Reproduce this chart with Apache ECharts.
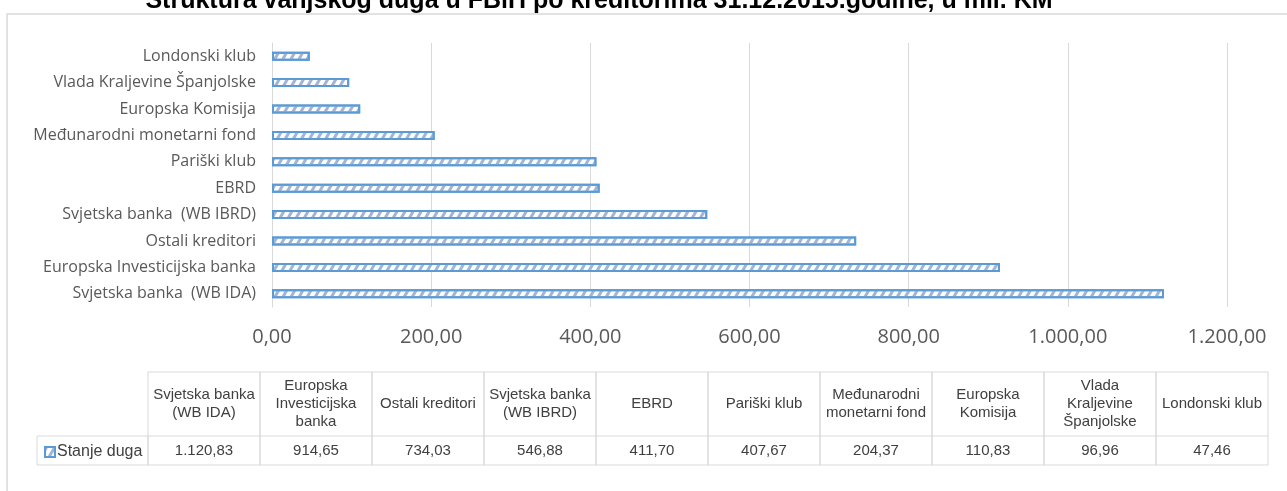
<!DOCTYPE html>
<html>
<head>
<meta charset="utf-8">
<script src="https://cdn.jsdelivr.net/npm/echarts@6/dist/echarts.min.js"></script>
<style>
  html, body { margin: 0; padding: 0; background: #fff; }
  #chart { width: 1287px; height: 491px; }
</style>
</head>
<body>
<div id="chart"></div>
<script>
// creditors, in table order (largest first)
const creditors = [
  "Svjetska banka  (WB IDA)",
  "Europska Investicijska banka",
  "Ostali kreditori",
  "Svjetska banka  (WB IBRD)",
  "EBRD",
  "Pariški klub",
  "Međunarodni monetarni fond",
  "Europska Komisija",
  "Vlada Kraljevine Španjolske",
  "Londonski klub"
];
// header text as wrapped in the data table
const tableHeaders = [
  "Svjetska banka\n(WB IDA)",
  "Europska\nInvesticijska\nbanka",
  "Ostali kreditori",
  "Svjetska banka\n(WB IBRD)",
  "EBRD",
  "Pariški klub",
  "Međunarodni\nmonetarni fond",
  "Europska\nKomisija",
  "Vlada\nKraljevine\nŠpanjolske",
  "Londonski klub"
];
const debt = [1120.83, 914.65, 734.03, 546.88, 411.70, 407.67, 204.37, 110.83, 96.96, 47.46];
const seriesName = "Stanje duga";
const title = "Struktura vanjskog duga u FBiH po kreditorima 31.12.2015.godine, u mil. KM";

// number format 1.234,56
const fmt = v => {
  const parts = v.toFixed(2).split(".");
  parts[0] = parts[0].replace(/\B(?=(\d{3})+(?!\d))/g, ".");
  return parts.join(",");
};

const tableFont = '"Liberation Sans", Arial, sans-serif';
const axisFont = '"Open Sans", Lato, sans-serif';
const gridLeft = 272, gridRight = 60, gridTop = 43, gridBottom = 184;

// data table below the chart
const tableX = 148, colW = 112, headTop = 372, headH = 64, rowH = 29;
const lineColor = "#d9d9d9";
const tableEls = [];
tableHeaders.forEach((h, i) => {
  const x = tableX + i * colW;
  tableEls.push({
    type: "rect", shape: { x, y: headTop, width: colW, height: headH + rowH },
    style: { fill: "none", stroke: lineColor, lineWidth: 1 }, silent: true
  });
  tableEls.push({
    type: "line", shape: { x1: x, y1: headTop + headH, x2: x + colW, y2: headTop + headH },
    style: { stroke: lineColor, lineWidth: 1 }, silent: true
  });
  tableEls.push({
    type: "text", x: x + colW / 2, y: headTop + headH / 2,
    style: { text: h, font: "15px " + tableFont, fill: "#404040", align: "center", verticalAlign: "middle", lineHeight: 18 }
  });
  tableEls.push({
    type: "text", x: x + colW / 2, y: headTop + headH + rowH / 2,
    style: { text: fmt(debt[i]), font: "15px " + tableFont, fill: "#404040", align: "center", verticalAlign: "middle" }
  });
});
// left cell holding the series key
tableEls.push({
  type: "rect", shape: { x: 37, y: headTop + headH, width: tableX - 37, height: rowH },
  style: { fill: "none", stroke: lineColor, lineWidth: 1 }, silent: true
});

const decal = {
  symbol: "rect",
  symbolSize: 1,
  color: "#a3b5d4",
  dashArrayX: [1, 0],
  dashArrayY: [3, 4],
  rotation: -Math.PI / 3
};

const option = {
  animation: false,
  grid: { left: gridLeft, right: gridRight, top: gridTop, bottom: gridBottom },
  legend: {
    data: [seriesName],
    left: 39, top: headTop + headH + 3,
    itemWidth: 10, itemHeight: 10, itemGap: 4,
    icon: "rect",
    textStyle: { fontFamily: tableFont, fontSize: 16, color: "#404040", padding: [0, 0, 0, -3] }
  },
  xAxis: {
    type: "value",
    min: 0, max: 1200, interval: 200,
    axisLine: { show: false },
    axisTick: { show: false },
    splitLine: { lineStyle: { color: "#d9d9d9", width: 1 } },
    axisLabel: {
      formatter: v => fmt(v),
      fontFamily: axisFont,
      fontSize: 20, color: "#595959", margin: 20
    }
  },
  yAxis: {
    type: "category",
    data: creditors,
    axisLine: { show: true, lineStyle: { color: "#d9d9d9" } },
    axisTick: { show: false },
    axisLabel: { fontFamily: axisFont, fontSize: 16, color: "#595959", margin: 16 }
  },
  series: [{
    name: seriesName,
    type: "bar",
    data: debt,
    barWidth: 9,
    itemStyle: { color: "#ffffff", borderColor: "#5b9bd5", borderWidth: 2, decal }
  }],
  graphic: [
    {
      type: "polyline", shape: { points: [[7, 500], [7, 14], [1300, 14]] },
      style: { fill: "none", stroke: "#d9d9d9", lineWidth: 1.5 }, silent: true
    },
    {
      type: "text", x: 599, y: 1,
      style: { text: title, font: "bold 25px 'Liberation Sans', Arial, sans-serif", fill: "#000", align: "center", verticalAlign: "middle" }
    },
    ...tableEls
  ]
};

const chart = echarts.init(document.getElementById("chart"));
chart.setOption(option);
</script>
</body>
</html>
